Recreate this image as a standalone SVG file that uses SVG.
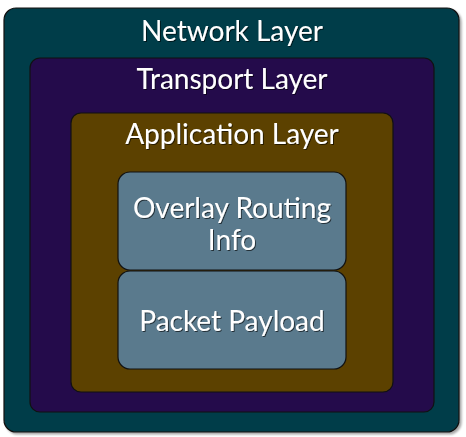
<svg xmlns="http://www.w3.org/2000/svg" width="466" height="437" viewBox="0 0 466 437">
<defs>
<filter id="sh" x="-5%" y="-5%" width="110%" height="110%"><feDropShadow dx="2" dy="2" stdDeviation="1" flood-color="#000" flood-opacity="0.35"/></filter>
<filter id="ts" x="-5%" y="-20%" width="110%" height="140%"><feDropShadow dx="1" dy="1" stdDeviation="0.6" flood-color="#000" flood-opacity="0.6"/></filter>
</defs>
<style>
.box{stroke:#111;stroke-width:1.2}
.t{font-family:Lato,"Open Sans",sans-serif;fill:#fff;text-anchor:middle;font-size:28px;filter:url(#ts)}
</style>
<rect width="466" height="437" fill="#fff"/>
<g id="network">
<rect class="box" x="4" y="8" width="455" height="424" rx="12" fill="#013c48" filter="url(#sh)"/>
<text class="t" x="232" y="41">Network Layer</text>
</g>
<g id="transport">
<rect class="box" x="30" y="58" width="404" height="354" rx="10" fill="#240b4b"/>
<text class="t" x="232" y="89">Transport Layer</text>
</g>
<g id="application">
<rect class="box" x="71" y="113" width="322" height="279" rx="10" fill="#5c4100"/>
<text class="t" x="232" y="144">Application Layer</text>
</g>
<g id="overlay">
<rect class="box" x="118" y="172" width="228" height="98" rx="12" fill="#5a7a8d"/>
<text class="t" x="232" y="218">Overlay Routing</text>
<text class="t" x="232" y="250">Info</text>
</g>
<g id="payload">
<rect class="box" x="118" y="271" width="228" height="98" rx="12" fill="#5a7a8d"/>
<text class="t" x="232" y="331">Packet Payload</text>
</g>
<g id="connectors"/>
</svg>
